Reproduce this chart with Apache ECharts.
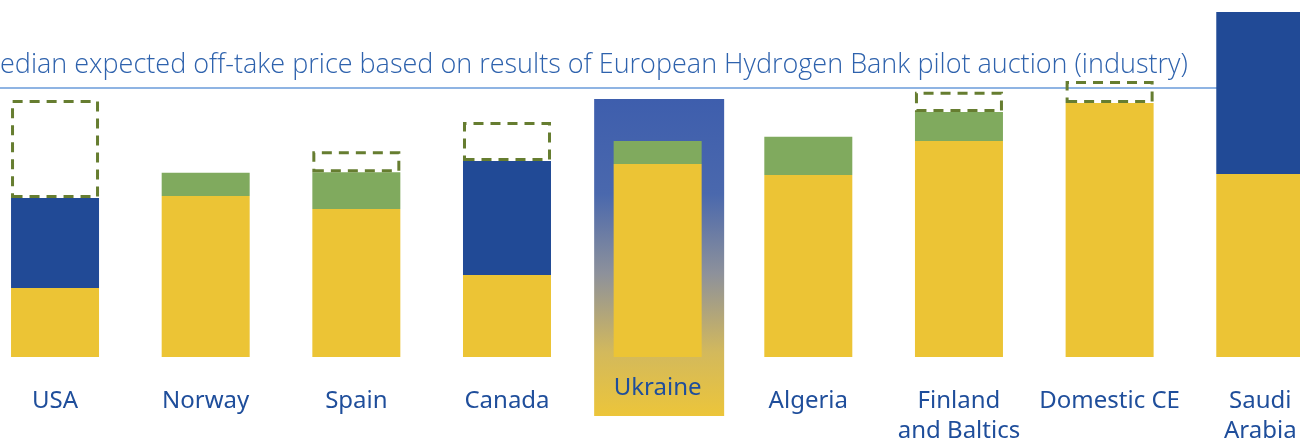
<!DOCTYPE html>
<html>
<head>
<meta charset="utf-8">
<script src="https://cdn.jsdelivr.net/npm/echarts@6/dist/echarts.min.js"></script>
<style>
  html, body { margin: 0; padding: 0; background: #ffffff; }
  #chart { width: 1300px; height: 441px; }
</style>
</head>
<body>
<div id="chart"></div>
<script>
// Hydrogen supply options: cost build-up per origin (EUR/kg)
const categories = ['USA', 'Norway', 'Spain', 'Canada', 'Ukraine', 'Algeria', 'Finland\nand Baltics', 'Domestic CE', 'Saudi\nArabia'];
const baseCost    = [2.30, 5.37, 4.93, 2.73, 6.43, 6.07, 7.20, 8.47, 6.10];
const greenAdder  = [null, 0.77, 1.23, null, 0.77, 1.27, 0.97, null, null];
const blueAdder   = [3.00, null, null, 3.80, null, null, null, null, 5.40];
const uncertainty = [3.27, null, 0.70, 1.30, null, null, 0.67, 0.73, null];
const auctionMedian = 8.97;
const auctionLabel = 'Median expected off-take price based on results of European Hydrogen Bank pilot auction (industry)';
const highlighted = 'Ukraine';

const YELLOW = '#ecc435';
const GREEN = '#80aa5e';
const BLUE = '#214a96';
const DASH = '#667d30';
const LABEL_BLUE = '#1f4e9b';

const chart = echarts.init(document.getElementById('chart'));

// the highlighted origin's label sits higher, inside its panel
const axisCategories = categories.map(c =>
  c === highlighted ? { value: c, textStyle: { lineHeight: 3 } } : c
);

chart.setOption({
  animation: false,
  backgroundColor: '#ffffff',
  grid: { left: -20.3, right: -35.6, top: 0, bottom: 84, containLabel: false, outerBoundsMode: 'none' },
  xAxis: {
    type: 'category',
    data: axisCategories,
    axisLine: { show: false },
    axisTick: { show: false },
    axisLabel: {
      interval: 0,
      margin: 29.5,
      fontFamily: 'Noto Sans, sans-serif',
      fontSize: 24,
      lineHeight: 30,
      color: LABEL_BLUE
    }
  },
  yAxis: {
    type: 'value',
    min: 0,
    max: 11.9,
    show: false,
    splitLine: { show: false }
  },
  series: [
    {
      name: 'Production cost',
      type: 'bar',
      stack: 'cost',
      barWidth: 88,
      z: 2,
      itemStyle: { color: YELLOW },
      data: baseCost,
      markLine: {
        z: 1,
        silent: true,
        symbol: 'none',
        lineStyle: { color: '#8fb4e3', width: 2, type: 'solid' },
        label: {
          position: 'insideStartTop',
          distance: [-3, 9],
          formatter: auctionLabel,
          color: '#2e62ad',
          fontFamily: 'Open Sans, sans-serif',
          fontWeight: 300,
          fontSize: 27
        },
        data: [{ yAxis: auctionMedian }]
      }
    },
    {
      name: 'Transport (pipeline)',
      type: 'bar',
      stack: 'cost',
      barWidth: 88,
      itemStyle: { color: GREEN },
      data: greenAdder
    },
    {
      name: 'Transport (shipping)',
      type: 'bar',
      stack: 'cost',
      barWidth: 88,
      itemStyle: { color: BLUE },
      data: blueAdder
    },
    {
      name: 'Uncertainty',
      type: 'bar',
      stack: 'cost',
      barWidth: 88,
      itemStyle: {
        color: 'rgba(255,255,255,0)',
        borderColor: DASH,
        borderWidth: 3,
        borderType: [10, 7]
      },
      data: uncertainty
    }
  ]
});

// Flag-coloured highlight panel behind the Ukraine column
const cx = chart.convertToPixel({ xAxisIndex: 0 }, highlighted);
chart.setOption({
  graphic: [{
    type: 'rect',
    z: -10,
    silent: true,
    shape: { x: cx + 1.5 - 65, y: 99, width: 130, height: 317 },
    style: {
      fill: new echarts.graphic.LinearGradient(0, 0, 0, 1, [
        { offset: 0, color: '#3e5ead' },
        { offset: 0.3, color: '#4a68ad' },
        { offset: 0.55, color: '#8d919b' },
        { offset: 0.8, color: '#d3b95c' },
        { offset: 1, color: '#ecc53a' }
      ])
    }
  }]
});
</script>
</body>
</html>
